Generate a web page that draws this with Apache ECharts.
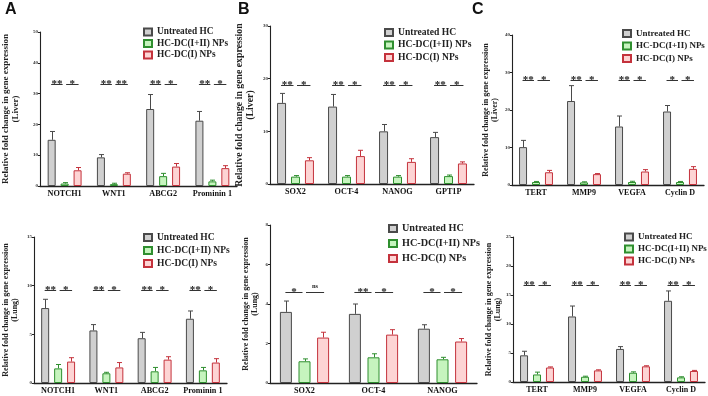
<!DOCTYPE html>
<html>
<head>
<meta charset="utf-8">
<script src="https://cdn.jsdelivr.net/npm/echarts@6/dist/echarts.min.js"></script>
<style>
  html, body { margin: 0; padding: 0; background: #fff; }
  #chart { width: 708px; height: 396px; }
</style>
</head>
<body>
<div id="chart"></div>
<script>
// group names
const groups = ['Untreated HC', 'HC-DC(I+II) NPs', 'HC-DC(I) NPs']

// categories
const genesA = ['NOTCH1', 'WNT1', 'ABCG2', 'Prominin 1']
const genesBLiver = ['SOX2', 'OCT-4', 'NANOG', 'GPT1P']
const genesBLung = ['SOX2', 'OCT-4', 'NANOG']
const genesC = ['TERT', 'MMP9', 'VEGFA', 'Cyclin D']

// A - liver
const aLiverHC = [15.0, 9.3, 25.0, 21.2]
const aLiverHCErr = [2.7, 0.9, 4.7, 3.0]
const aLiverDual = [0.8, 0.6, 3.2, 1.5]
const aLiverDualErr = [0.3, 0.3, 0.9, 0.4]
const aLiverSingle = [5.1, 4.0, 6.3, 5.8]
const aLiverSingleErr = [0.9, 0.3, 1.0, 0.8]
const aLiverSig = [['**', '*'], ['**', '**'], ['**', '*'], ['**', '*']]

// B - liver
const bLiverHC = [15.4, 14.7, 10.0, 8.9]
const bLiverHCErr = [1.8, 2.3, 1.3, 0.9]
const bLiverDual = [1.4, 1.4, 1.4, 1.5]
const bLiverDualErr = [0.2, 0.2, 0.2, 0.2]
const bLiverSingle = [4.5, 5.3, 4.2, 3.9]
const bLiverSingleErr = [0.5, 1.1, 0.6, 0.3]
const bLiverSig = [['**', '*'], ['**', '*'], ['**', '*'], ['**', '*']]

// C - liver
const cLiverHC = [10.1, 22.4, 15.6, 19.6]
const cLiverHCErr = [1.8, 4.1, 2.8, 1.6]
const cLiverDual = [0.8, 0.7, 0.8, 0.8]
const cLiverDualErr = [0.15, 0.15, 0.2, 0.15]
const cLiverSingle = [3.4, 2.9, 3.6, 4.3]
const cLiverSingleErr = [0.5, 0.15, 0.5, 0.6]
const cLiverSig = [['**', '*'], ['**', '*'], ['**', '*'], ['*', '*']]

// A - lung
const aLungHC = [7.7, 5.4, 4.6, 6.6]
const aLungHCErr = [0.9, 0.6, 0.6, 0.8]
const aLungDual = [1.5, 1.0, 1.2, 1.3]
const aLungDualErr = [0.4, 0.1, 0.4, 0.3]
const aLungSingle = [2.2, 1.6, 2.4, 2.1]
const aLungSingleErr = [0.4, 0.5, 0.3, 0.4]
const aLungSig = [['**', '*'], ['**', '*'], ['**', '*'], ['**', '*']]

// B - lung
const bLungHC = [3.6, 3.5, 2.75]
const bLungHCErr = [0.55, 0.5, 0.2]
const bLungDual = [1.1, 1.3, 1.2]
const bLungDualErr = [0.12, 0.18, 0.1]
const bLungSingle = [2.3, 2.45, 2.1]
const bLungSingleErr = [0.27, 0.25, 0.15]
const bLungSig = [['*', 'ns'], ['**', '*'], ['*', '*']]

// C - lung
const cLungHC = [4.6, 11.3, 5.7, 14.0]
const cLungHCErr = [0.7, 1.8, 0.4, 1.7]
const cLungDual = [1.3, 0.9, 1.6, 0.8]
const cLungDualErr = [0.4, 0.1, 0.15, 0.1]
const cLungSingle = [2.5, 2.0, 2.7, 1.9]
const cLungSingleErr = [0.1, 0.1, 0.1, 0.1]
const cLungSig = [['**', '*'], ['**', '*'], ['**', '*'], ['**', '*']]

// y axis ranges
const yMax = [50, 30, 40, 15, 8, 25]
const yStep = [10, 10, 10, 5, 2, 5]
const sigLevel = [33, 18.8, 28, 9.55, 4.62, 16.7]

const colors = [
  { fill: '#d0d0d0', border: '#4a4a4a' },
  { fill: '#c6f4be', border: '#2f8f2f' },
  { fill: '#fdd4d4', border: '#c4323c' }
]
const serif = '"Liberation Serif", "Times New Roman", serif'

// 面板布局
const panels = [
  { grid: { left: 33, top: 32, width: 204, height: 154 }, cats: genesA, organ: 'Liver',
    vals: [aLiverHC, aLiverDual, aLiverSingle], errs: [aLiverHCErr, aLiverDualErr, aLiverSingleErr], sig: aLiverSig,
    bw: 8, gap: 0.62, nameGap: 19, nameSize: 9, catSize: 8.2,
    legend: { left: 143, top: 27.5, size: 9.3, gap: 2.5 } },
  { grid: { left: 270, top: 26, width: 204, height: 158 }, cats: genesBLiver, organ: 'Liver',
    vals: [bLiverHC, bLiverDual, bLiverSingle], errs: [bLiverHCErr, bLiverDualErr, bLiverSingleErr], sig: bLiverSig,
    bw: 9, gap: 0.55, nameGap: 14, nameSize: 9.8, catSize: 8.2,
    legend: { left: 384, top: 27.5, size: 9.6, gap: 2.5 } },
  { grid: { left: 512, top: 35, width: 192, height: 150 }, cats: genesC, organ: 'Liver',
    vals: [cLiverHC, cLiverDual, cLiverSingle], errs: [cLiverHCErr, cLiverDualErr, cLiverSingleErr], sig: cLiverSig,
    bw: 8, gap: 0.62, nameGap: 13, nameSize: 8, catSize: 8,
    legend: { left: 622, top: 29, size: 9, gap: 3.5 } },
  { grid: { left: 33, top: 237, width: 194, height: 146 }, cats: genesA, organ: 'Lung',
    vals: [aLungHC, aLungDual, aLungSingle], errs: [aLungHCErr, aLungDualErr, aLungSingleErr], sig: aLungSig,
    bw: 8, gap: 0.62, nameGap: 15, nameSize: 8, catSize: 8.2,
    legend: { left: 143, top: 232.5, size: 9.5, gap: 3 } },
  { grid: { left: 270, top: 225, width: 207, height: 158 }, cats: genesBLung, organ: 'Lung',
    vals: [bLungHC, bLungDual, bLungSingle], errs: [bLungHCErr, bLungDualErr, bLungSingleErr], sig: bLungSig,
    bw: 12, gap: 0.55, nameGap: 11, nameSize: 8, catSize: 8.2,
    legend: { left: 388, top: 223.5, size: 10.2, gap: 5 } },
  { grid: { left: 513, top: 237, width: 192, height: 145 }, cats: genesC, organ: 'Lung',
    vals: [cLungHC, cLungDual, cLungSingle], errs: [cLungHCErr, cLungDualErr, cLungSingleErr], sig: cLungSig,
    bw: 8, gap: 0.62, nameGap: 11, nameSize: 8, catSize: 8,
    legend: { left: 624, top: 232.5, size: 9, gap: 3 } }
]

// 误差线
const errRender = (bw, gap) => (params, api) => {
  const c = api.value(0), k = api.value(1), v = api.value(2), e = api.value(3)
  const off = (k - 1) * bw * (1 + gap)
  const base = api.coord([c, v])
  const top = api.coord([c, v + e])
  const x = Math.round(base[0] + off) + 0.5
  const style = { stroke: colors[k].border, lineWidth: 1 }
  return {
    type: 'group',
    children: [
      { type: 'line', shape: { x1: x, y1: base[1], x2: x, y2: top[1] }, style },
      { type: 'line', shape: { x1: x - 2.5, y1: top[1], x2: x + 2.5, y2: top[1] }, style }
    ]
  }
}

// 显著性标记
const sigRender = (bw, gap, labels) => (params, api) => {
  const c = api.value(0), j = api.value(1), y = api.value(2)
  const step = bw * (1 + gap)
  const p = api.coord([c, y])
  const x1 = p[0] + (j - 1) * step - 0.5 + j * 2
  const x2 = p[0] + j * step - 2 + j * 3
  const yy = Math.round(p[1]) + 0.5
  const txt = labels[params.dataIndex]
  return {
    type: 'group',
    children: [
      { type: 'line', shape: { x1: x1, y1: yy, x2: x2, y2: yy }, style: { stroke: '#333', lineWidth: 1 } },
      { type: 'text', x: (x1 + x2) / 2, y: yy - (txt === 'ns' ? 3 : 0.5),
        style: { text: txt, fill: '#222', font: 'bold ' + (txt === 'ns' ? 6.5 : 11) + 'px ' + serif,
          align: 'center', verticalAlign: txt === 'ns' ? 'bottom' : 'middle' } }
    ]
  }
}

const grid = [], xAxis = [], yAxis = [], series = [], legend = []

panels.forEach((p, i) => {
  grid.push(p.grid)
  xAxis.push({
    type: 'category',
    gridIndex: i,
    data: p.cats,
    axisLine: { lineStyle: { color: '#222', width: 1.3 } },
    axisTick: { alignWithLabel: true, length: 2.5, lineStyle: { color: '#222' } },
    axisLabel: { interval: 0, margin: 4, color: '#111', fontFamily: serif, fontWeight: 'bold', fontSize: p.catSize }
  })
  yAxis.push({
    type: 'value',
    gridIndex: i,
    min: 0,
    max: yMax[i],
    interval: yStep[i],
    name: 'Relative fold change in gene expression\n(' + p.organ + ')',
    nameLocation: 'middle',
    nameRotate: 90,
    nameGap: p.nameGap,
    nameTextStyle: { fontFamily: serif, fontWeight: 'bold', fontSize: p.nameSize, lineHeight: p.nameSize + 1, color: '#222' },
    splitLine: { show: false },
    axisLine: { show: true, lineStyle: { color: '#222', width: 1.1 } },
    axisTick: { show: true, length: 2, lineStyle: { color: '#222' } },
    axisLabel: { margin: 2, fontSize: 5, fontFamily: serif, fontWeight: 'bold', color: '#333' }
  })

  groups.forEach((g, k) => {
    series.push({
      name: g,
      type: 'bar',
      xAxisIndex: i,
      yAxisIndex: i,
      data: p.vals[k],
      barWidth: p.bw,
      barGap: (p.gap * 100) + '%',
      itemStyle: { color: colors[k].fill, borderColor: colors[k].border, borderWidth: 1 },
      emphasis: { disabled: true }
    })
  })

  const errData = []
  p.vals.forEach((arr, k) => arr.forEach((v, c) => errData.push([c, k, v, p.errs[k][c]])))
  series.push({
    type: 'custom',
    xAxisIndex: i,
    yAxisIndex: i,
    renderItem: errRender(p.bw, p.gap),
    data: errData,
    z: 3,
    silent: true
  })

  const sigData = [], sigLabels = []
  p.sig.forEach((pair, c) => pair.forEach((s, j) => {
    sigData.push([c, j, sigLevel[i]])
    sigLabels.push(s)
  }))
  series.push({
    type: 'custom',
    xAxisIndex: i,
    yAxisIndex: i,
    renderItem: sigRender(p.bw, p.gap, sigLabels),
    data: sigData,
    z: 3,
    silent: true
  })

  legend.push({
    data: groups,
    orient: 'vertical',
    left: p.legend.left,
    top: p.legend.top,
    padding: 0,
    itemWidth: 8,
    itemHeight: 7,
    itemGap: p.legend.gap,
    icon: 'rect',
    selectedMode: false,
    textStyle: { fontFamily: serif, fontWeight: 'bold', fontSize: p.legend.size, lineHeight: 9, color: '#222' }
  })
})

const chart = echarts.init(document.getElementById('chart'), null, { renderer: 'canvas' })
chart.setOption({
  animation: false,
  backgroundColor: '#fff',
  graphic: [
    { type: 'text', left: 5, top: 2, style: { text: 'A', font: 'bold 16px "Liberation Sans", Arial, sans-serif', fill: '#111' } },
    { type: 'text', left: 238, top: 2, style: { text: 'B', font: 'bold 16px "Liberation Sans", Arial, sans-serif', fill: '#111' } },
    { type: 'text', left: 472, top: 2, style: { text: 'C', font: 'bold 16px "Liberation Sans", Arial, sans-serif', fill: '#111' } }
  ],
  legend: legend,
  grid: grid,
  xAxis: xAxis,
  yAxis: yAxis,
  series: series
})
</script>
</body>
</html>
